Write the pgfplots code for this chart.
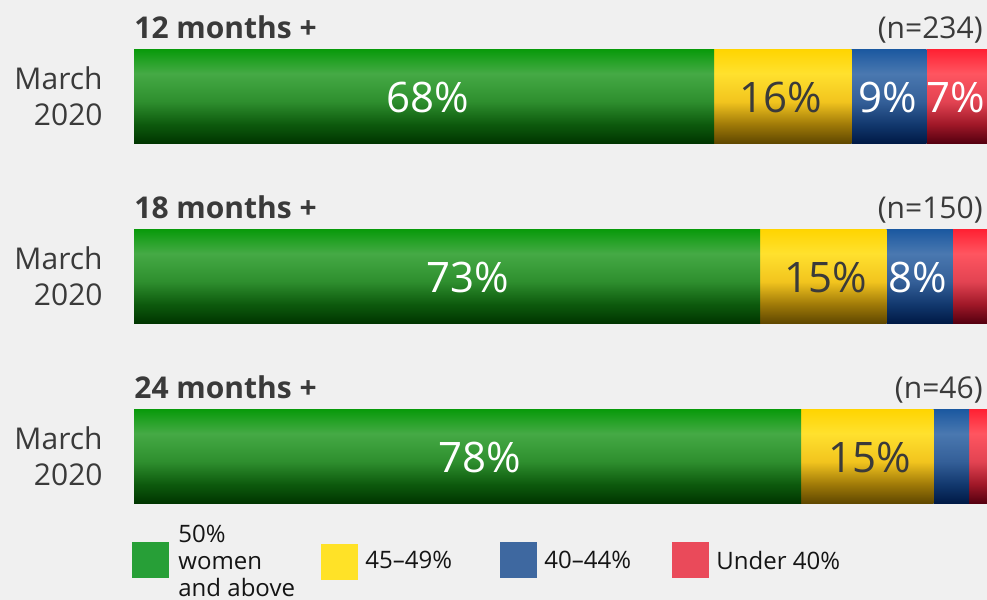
\documentclass[border=0pt]{standalone}
\usepackage{fontspec}
\setmainfont{Open Sans}
\usepackage{pgfplots}
\pgfplotsset{compat=1.18}

\definecolor{bg}{HTML}{F0F0F0}
\definecolor{txt}{HTML}{3A3A3A}
\definecolor{legtxt}{HTML}{151515}
% bar gradients: top, light, mid, dark, bottom
\definecolor{gtop}{HTML}{089A0A}\definecolor{glight}{HTML}{45AA45}
\definecolor{gmid}{HTML}{2E8E2E}\definecolor{gdark}{HTML}{0D5A0D}\definecolor{gbot}{HTML}{003500}
\definecolor{ytop}{HTML}{FFD400}\definecolor{ylight}{HTML}{FFE12E}
\definecolor{ymid}{HTML}{F2C41E}\definecolor{ydark}{HTML}{A07A08}\definecolor{ybot}{HTML}{604800}
\definecolor{btop}{HTML}{1A58A0}\definecolor{blight}{HTML}{4A78B0}
\definecolor{bmid}{HTML}{345F98}\definecolor{bdark}{HTML}{12386E}\definecolor{bbot}{HTML}{001A46}
\definecolor{rtop}{HTML}{FF2032}\definecolor{rlight}{HTML}{FF5560}
\definecolor{rmid}{HTML}{E24352}\definecolor{rdark}{HTML}{A01828}\definecolor{rbot}{HTML}{560010}
% legend swatches
\definecolor{lgreen}{HTML}{279F37}
\definecolor{lyellow}{HTML}{FFE227}
\definecolor{lblue}{HTML}{3E68A0}
\definecolor{lred}{HTML}{EA4A5A}

\pgfdeclareverticalshading{greenbar}{100bp}{color(0bp)=(gbot); color(25bp)=(gbot); color(35bp)=(gdark); color(47bp)=(gmid); color(62bp)=(glight); color(75bp)=(gtop); color(100bp)=(gtop)}
\pgfdeclareverticalshading{yellowbar}{100bp}{color(0bp)=(ybot); color(25bp)=(ybot); color(35bp)=(ydark); color(47bp)=(ymid); color(62bp)=(ylight); color(75bp)=(ytop); color(100bp)=(ytop)}
\pgfdeclareverticalshading{bluebar}{100bp}{color(0bp)=(bbot); color(25bp)=(bbot); color(35bp)=(bdark); color(47bp)=(bmid); color(62bp)=(blight); color(75bp)=(btop); color(100bp)=(btop)}
\pgfdeclareverticalshading{redbar}{100bp}{color(0bp)=(rbot); color(25bp)=(rbot); color(35bp)=(rdark); color(47bp)=(rmid); color(62bp)=(rlight); color(75bp)=(rtop); color(100bp)=(rtop)}

\newcommand{\lab}{\fontsize{15}{18}\selectfont}
\newcommand{\val}{\fontsize{21}{25}\selectfont}
\newcommand{\leg}{\fontsize{12}{13.5}\selectfont}

\pgfplotsset{barrow/.style={
  anchor=north west,
  scale only axis,
  width=426.5pt, height=47pt,
  xbar stacked,
  bar width=47pt,
  xmin=0, xmax=100,
  ymin=-0.5, ymax=0.5,
  enlargelimits=false,
  hide axis,
  clip=false,
}}

\begin{document}
\begin{tikzpicture}
\begin{scope}[x=0.5pt,y=-0.5pt]
  \fill[bg] (0,0) rectangle (987,600);
\end{scope}

% 12 months +
\begin{axis}[barrow, at={(67pt,-24.5pt)}]
  \addplot[shading=greenbar, draw=none] coordinates {(68,0)};
  \addplot[shading=yellowbar, draw=none] coordinates {(16.1,0)};
  \addplot[shading=bluebar, draw=none] coordinates {(8.8,0)};
  \addplot[shading=redbar, draw=none] coordinates {(7.1,0)};
\end{axis}
% 18 months +
\begin{axis}[barrow, at={(67pt,-114.5pt)}]
  \addplot[shading=greenbar, draw=none] coordinates {(73.4,0)};
  \addplot[shading=yellowbar, draw=none] coordinates {(14.8,0)};
  \addplot[shading=bluebar, draw=none] coordinates {(7.8,0)};
  \addplot[shading=redbar, draw=none] coordinates {(4.0,0)};
\end{axis}
% 24 months +
\begin{axis}[barrow, at={(67pt,-204.5pt)}]
  \addplot[shading=greenbar, draw=none] coordinates {(78.2,0)};
  \addplot[shading=yellowbar, draw=none] coordinates {(15.5,0)};
  \addplot[shading=bluebar, draw=none] coordinates {(4.2,0)};
  \addplot[shading=redbar, draw=none] coordinates {(2.1,0)};
\end{axis}

\begin{scope}[x=0.5pt,y=-0.5pt]
  \foreach \y/\t/\n in {0/12/234, 180/18/150, 360/24/46} {
    \node[txt, font=\lab\bfseries, anchor=base west, inner sep=0pt] at (134,38+\y) {\t\ months +};
    \node[txt, font=\lab, anchor=base east, inner sep=0pt] at (983,38+\y) {(n=\n)};
    \node[txt, font=\lab, align=right, anchor=east, inner sep=0pt] at (103,96+\y) {March\\2020};
  }
  % value labels
  \node[white, font=\val] at (428,97) {68\%};
  \node[txt, font=\val] at (781,97) {16\%};
  \node[white, font=\val] at (888,97) {9\%};
  \node[white, font=\val] at (956,97) {7\%};
  \node[white, font=\val] at (468,277) {73\%};
  \node[txt, font=\val] at (826,277) {15\%};
  \node[white, font=\val] at (918,277) {8\%};
  \node[white, font=\val] at (480,457) {78\%};
  \node[txt, font=\val] at (870,457) {15\%};
  % legend
  \fill[lgreen] (132,542) rectangle (169,578);
  \node[legtxt, font=\leg, align=left, anchor=west, inner sep=0pt] at (178,561) {50\%\\women\\and above};
  \fill[lyellow] (321,544) rectangle (358,580);
  \node[legtxt, font=\leg, anchor=west, inner sep=0pt] at (365,560) {45–49\%};
  \fill[lblue] (500,542) rectangle (537,578);
  \node[legtxt, font=\leg, anchor=west, inner sep=0pt] at (544,560) {40–44\%};
  \fill[lred] (672,542) rectangle (709,578);
  \node[legtxt, font=\leg, anchor=west, inner sep=0pt] at (716,560) {Under 40\%};
  \pgfresetboundingbox
  \useasboundingbox (0,0) rectangle (987,600);
\end{scope}
\end{tikzpicture}
\end{document}
